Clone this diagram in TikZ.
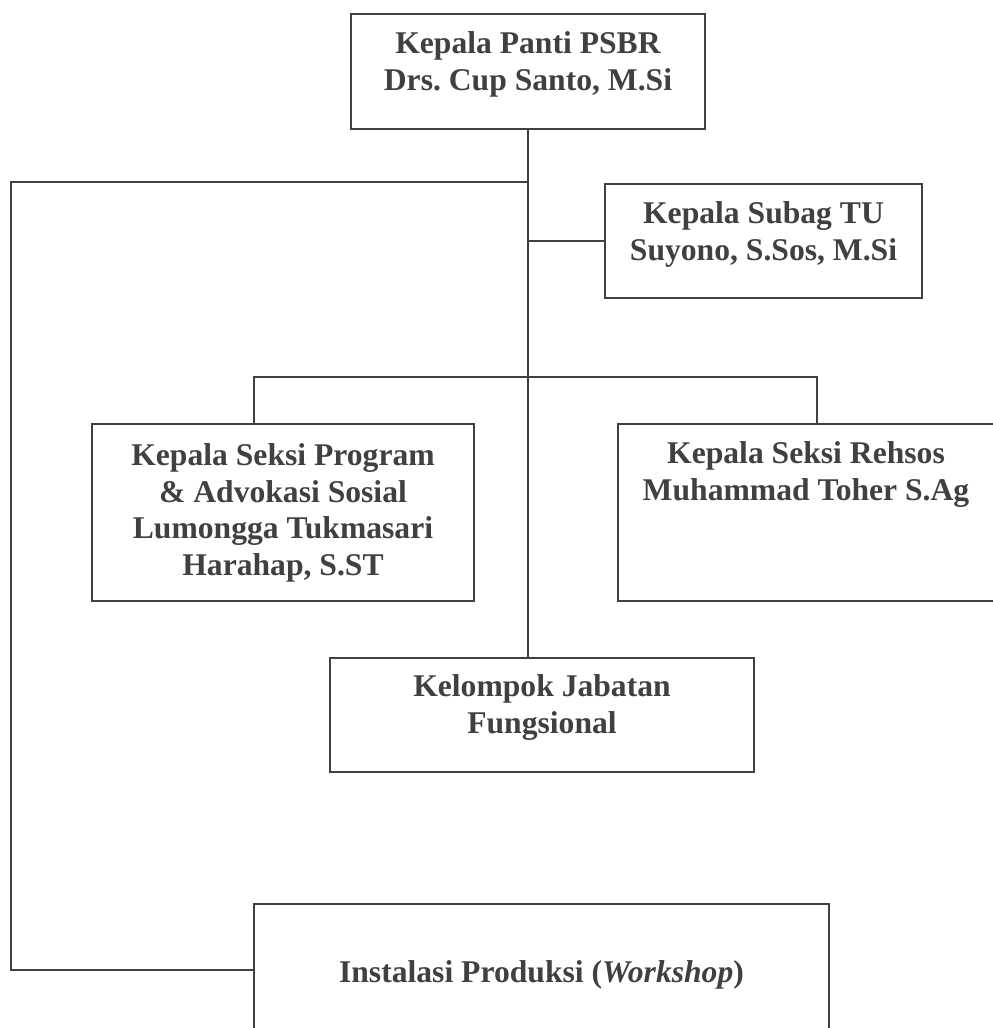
\documentclass[tikz,border=0pt]{standalone}
\usepackage{fontspec}
\setmainfont{Liberation Serif}
\frenchspacing
\definecolor{garis}{RGB}{64,64,64}
\begin{document}
\begin{tikzpicture}[x=0.02cm, y=-0.02cm,
    kotak/.style={draw=garis, line width=1pt, text=garis, inner sep=0pt, align=center, anchor=north,
      font=\fontsize{18}{21}\selectfont\bfseries},
    hubung/.style={draw=garis, line width=1pt}]
    \useasboundingbox (0,0) rectangle (992,1028);
    % Draw the boxes
\node at (528,13) [kotak, minimum width=7.08cm, text height=1.54cm, text depth=0.76cm] (ketua) {Kepala Panti PSBR\\Drs. Cup Santo, M.Si};

\node at (763.5,183) [kotak, minimum width=6.34cm, text height=1.54cm, text depth=0.74cm] (subag) {Kepala Subag TU\\Suyono, S.Sos, M.Si};

\node at (283,423) [kotak, minimum width=7.64cm, text height=3.04cm, text depth=0.5cm] (seksiprog) {Kepala Seksi Program\\\& Advokasi Sosial\\Lumongga Tukmasari\\Harahap, S.ST};

\node at (806,423) [kotak, minimum width=7.52cm, text height=1.54cm, text depth=2.0cm] (seksirehsos) {Kepala Seksi Rehsos\\Muhammad Toher S.Ag};

\node at (542,657) [kotak, minimum width=8.48cm, text height=1.52cm, text depth=0.76cm] (fungsional) {Kelompok Jabatan\\Fungsional};

\node at (541.5,903) [kotak, minimum width=11.5cm, text height=1.58cm, text depth=1.06cm] (instalasi) {Instalasi Produksi (\textit{Workshop})};

    % Draw the lines
\coordinate (kiri) at (11,182);
\coordinate (cabangkiri) at (254,377);
\coordinate (cabangkanan) at (817,377);
\draw[hubung] (ketua.south) -- (ketua.south |- fungsional.north);
\draw[hubung] (ketua.south |- kiri) -- (kiri) |- (instalasi.west);
\draw[hubung] (ketua.south |- subag.west) -- (subag.west);
\draw[hubung] (seksiprog.north -| cabangkiri) -- (cabangkiri) -- (cabangkanan) -- (cabangkanan |- seksirehsos.north);
\end{tikzpicture}
\end{document}
